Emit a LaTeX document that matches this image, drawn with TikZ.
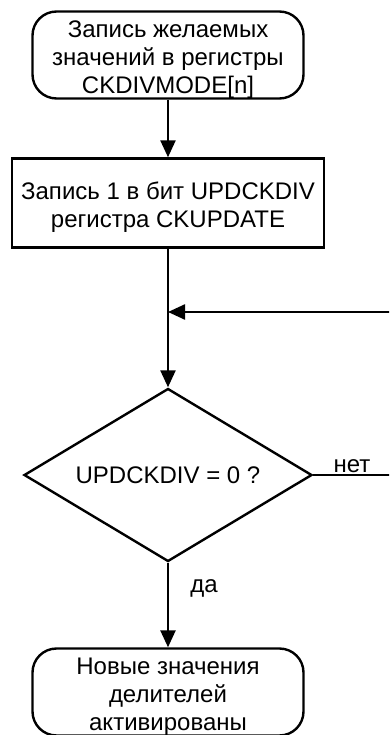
\documentclass[tikz,border=0pt]{standalone}
\usepackage{fontspec}
\setmainfont{Liberation Sans}
\usetikzlibrary{shapes.geometric,arrows.meta}
\newcommand\dnstrut{\rule{0pt}{26pt}}
\begin{document}
\begin{tikzpicture}[x=1pt,y=-1pt,line width=2.4pt,
  txt/.style={font=\fontsize{24}{28}\selectfont},
  term/.style={draw, rectangle, rounded corners=24pt, minimum width=271pt, minimum height=85pt, inner sep=0pt, align=center, txt},
  proc/.style={draw, rectangle, minimum width=312pt, minimum height=89pt, inner sep=0pt, align=center, txt},
  dec/.style={draw, diamond, aspect=1.665, minimum width=288pt, minimum height=173pt, inner sep=0pt, txt},
  lbl/.style={inner sep=0pt, txt},
  arr/.style={-{Triangle[length=17pt,width=15pt]}}]
\useasboundingbox (0,0) rectangle (389,735);
\clip (0,0) rectangle (389,735);
\node[term] (start) at (168,55) {\dnstrut Запись желаемых\\значений в регистры\\CKDIVMODE[n]};
\node[proc] (upd) at (168,203) {\dnstrut Запись 1 в бит UPDCKDIV\\регистра CKUPDATE};
\node[dec] (chk) at (168,475) {UPDCKDIV = 0 ?};
\node[term] (done) at (168,692) {\dnstrut Новые значения\\делителей\\активированы};
\coordinate (join) at (168,312);
\coordinate (loop) at (420,475);
\node[lbl, anchor=base] (no) at (352,472) {нет};
\node[lbl, anchor=base] (yes) at (204,592) {да};
\draw[arr] (start) -- (upd);
\draw (upd) -- (join);
\draw[arr] (join) -- (chk.north);
\draw[arr] (chk.east) -- (loop) |- (join);
\draw[arr] (chk.south) -- (done.north);
\end{tikzpicture}
\end{document}
